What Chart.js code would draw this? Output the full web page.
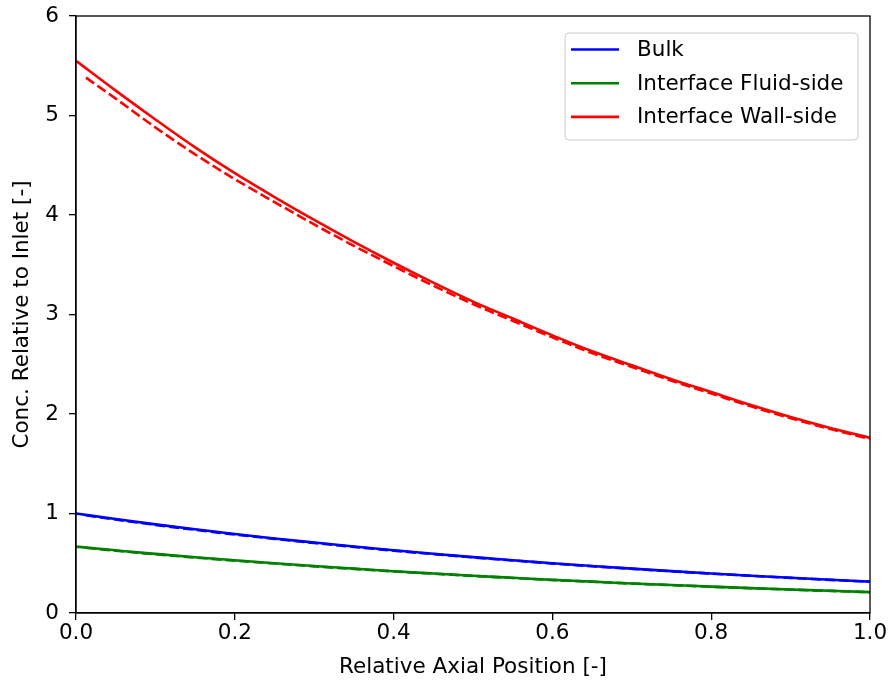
<!DOCTYPE html>
<html>
<head>
<meta charset="utf-8">
<script src="https://cdn.jsdelivr.net/npm/chart.js@4.4.0/dist/chart.umd.min.js"></script>
<style>
  html, body { margin: 0; padding: 0; background: #fff; }
  #wrap { width: 891px; height: 685px; }
</style>
</head>
<body>
<div id="wrap"><canvas id="chart" width="891" height="685"></canvas></div>
<script>
// axial positions (model results)
const xSolid = [0, 0.05, 0.1, 0.15, 0.2, 0.25, 0.3, 0.35, 0.4, 0.45, 0.5,
                0.55, 0.6, 0.65, 0.7, 0.75, 0.8, 0.85, 0.9, 0.95, 1.0];
const bulk = [1.000, 0.944, 0.891, 0.841, 0.794, 0.749, 0.708, 0.668, 0.630, 0.595, 0.562,
              0.530, 0.500, 0.472, 0.446, 0.421, 0.397, 0.375, 0.354, 0.334, 0.315];
const fluidSide = [0.667, 0.630, 0.594, 0.561, 0.530, 0.500, 0.472, 0.446, 0.420, 0.397, 0.375,
                   0.354, 0.333, 0.315, 0.297, 0.281, 0.265, 0.250, 0.236, 0.223, 0.210];
const wallSide = [5.55, 5.25, 4.96, 4.68, 4.42, 4.18, 3.95, 3.73, 3.52, 3.32, 3.13,
                  2.96, 2.79, 2.63, 2.49, 2.35, 2.22, 2.09, 1.97, 1.86, 1.76];

// reference (dashed) curves, sampled at cell centres
const xDashed = [0.0125, 0.05, 0.1, 0.15, 0.2, 0.25, 0.3, 0.35, 0.4, 0.45, 0.5,
                 0.55, 0.6, 0.65, 0.7, 0.75, 0.8, 0.85, 0.9, 0.95, 1.0];
const bulkRef = [0.982, 0.939, 0.886, 0.836, 0.789, 0.745, 0.704, 0.664, 0.627, 0.592, 0.559,
                 0.528, 0.498, 0.470, 0.444, 0.419, 0.396, 0.374, 0.353, 0.333, 0.314];
const fluidRef = [0.655, 0.626, 0.590, 0.557, 0.526, 0.497, 0.469, 0.443, 0.418, 0.395, 0.373,
                  0.352, 0.332, 0.314, 0.296, 0.280, 0.264, 0.249, 0.235, 0.222, 0.209];
const wallRef = [5.38, 5.17, 4.88, 4.61, 4.36, 4.13, 3.905, 3.69, 3.487, 3.29, 3.105,
                 2.937, 2.77, 2.612, 2.473, 2.334, 2.206, 2.077, 1.958, 1.849, 1.75];

const seriesLabels = ["Bulk", "Interface Fluid-side", "Interface Wall-side"];
const seriesColors = ["#0000ff", "#008000", "#ff0000"];
const xTicks = [0, 0.2, 0.4, 0.6, 0.8, 1.0];
const yTicks = [0, 1, 2, 3, 4, 5, 6];

const FONT = "'DejaVu Sans', sans-serif";
const FSIZE = 21.5;

function pts(xs, ys) {
  return xs.map((x, i) => ({ x: x, y: ys[i] }));
}

function lineSet(label, xs, ys, color, dashed) {
  return {
    label: label,
    data: pts(xs, ys),
    borderColor: color,
    backgroundColor: color,
    borderWidth: 2.6,
    borderDash: dashed ? [10, 4] : [],
    pointRadius: 0,
    fill: false,
    cubicInterpolationMode: 'monotone'
  };
}

// frame + legend box drawn like matplotlib
const framePlugin = {
  id: 'frame',
  afterDraw(chart) {
    const ctx = chart.ctx, a = chart.chartArea;
    ctx.save();
    ctx.strokeStyle = '#000';
    ctx.lineWidth = 1.3;
    ctx.strokeRect(a.left, a.top, a.right - a.left, a.bottom - a.top);

    // legend
    const bw = 293, bh = 107;
    const bx = a.right - 12 - bw, by = a.top + 17;
    ctx.beginPath();
    ctx.roundRect(bx, by, bw, bh, 4);
    ctx.fillStyle = 'rgba(255,255,255,0.85)';
    ctx.fill();
    ctx.strokeStyle = '#cccccc';
    ctx.lineWidth = 1;
    ctx.stroke();
    ctx.font = FSIZE + 'px ' + FONT;
    ctx.textBaseline = 'middle';
    ctx.fillStyle = '#000';
    seriesLabels.forEach((lab, i) => {
      const y = by + 16.5 + i * 33.7;
      ctx.strokeStyle = seriesColors[i];
      ctx.lineWidth = 2.6;
      ctx.beginPath();
      ctx.moveTo(bx + 6, y);
      ctx.lineTo(bx + 54, y);
      ctx.stroke();
      ctx.fillText(lab, bx + 72, y + 1);
    });
    ctx.restore();
  }
};

new Chart(document.getElementById('chart'), {
  type: 'line',
  data: {
    datasets: [
      lineSet(seriesLabels[0], xSolid, bulk, seriesColors[0], false),
      lineSet(seriesLabels[1], xSolid, fluidSide, seriesColors[1], false),
      lineSet(seriesLabels[2], xSolid, wallSide, seriesColors[2], false),
      lineSet('', xDashed, bulkRef, seriesColors[0], true),
      lineSet('', xDashed, fluidRef, seriesColors[1], true),
      lineSet('', xDashed, wallRef, seriesColors[2], true)
    ]
  },
  plugins: [framePlugin],
  options: {
    responsive: false,
    animation: false,
    layout: { padding: { top: 16, right: 21, left: 0, bottom: 0 } },
    plugins: {
      legend: { display: false },
      tooltip: { enabled: false }
    },
    scales: {
      x: {
        type: 'linear',
        min: 0,
        max: 1,
        afterBuildTicks: s => { s.ticks = xTicks.map(v => ({ value: v })); },
        afterFit: s => { s.height = 72; s.paddingLeft = 0; s.paddingRight = 0; },
        grid: { drawOnChartArea: false, drawTicks: true, tickLength: 7, color: '#000', lineWidth: 1.3 },
        border: { display: true, color: '#000', width: 1.3 },
        ticks: {
          color: '#000',
          font: { family: FONT, size: FSIZE },
          padding: 1,
          maxRotation: 0,
          callback: v => v.toFixed(1)
        },
        title: {
          display: true,
          text: 'Relative Axial Position [-]',
          color: '#000',
          font: { family: FONT, size: FSIZE },
          padding: { top: 0, bottom: 5 }
        }
      },
      y: {
        type: 'linear',
        min: 0,
        max: 6,
        afterBuildTicks: s => { s.ticks = yTicks.map(v => ({ value: v })); },
        afterFit: s => { s.width = 76; s.paddingTop = 0; s.paddingBottom = 0; },
        grid: { drawOnChartArea: false, drawTicks: true, tickLength: 7, color: '#000', lineWidth: 1.3 },
        border: { display: true, color: '#000', width: 1.3 },
        ticks: {
          color: '#000',
          font: { family: FONT, size: FSIZE },
          padding: 10,
          callback: v => String(v)
        },
        title: {
          display: true,
          text: 'Conc. Relative to Inlet [-]',
          color: '#000',
          font: { family: FONT, size: FSIZE },
          padding: { top: 10, bottom: 0 }
        }
      }
    }
  }
});
</script>
</body>
</html>
